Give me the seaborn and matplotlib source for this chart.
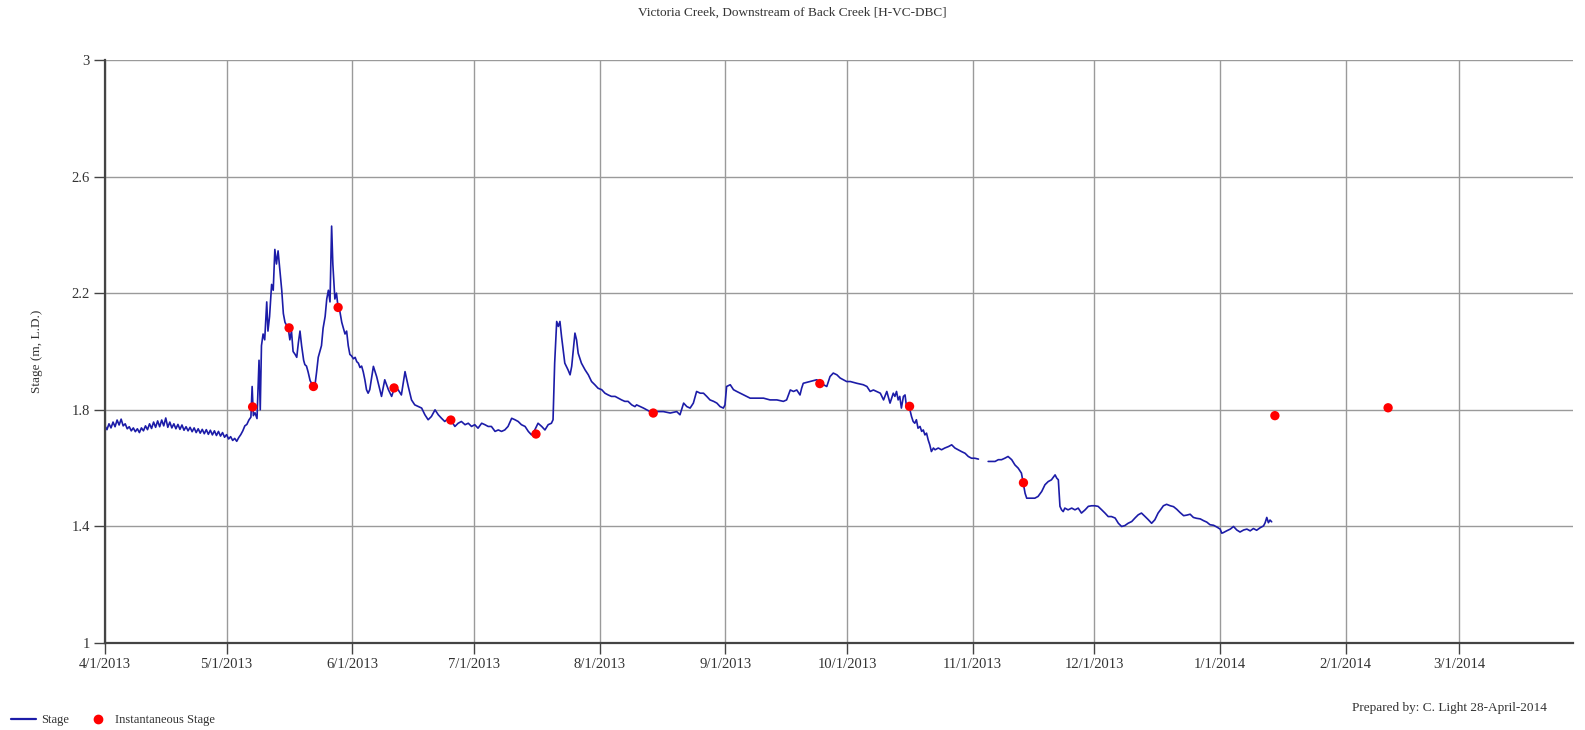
import pandas as pd
import seaborn as sns
import matplotlib
matplotlib.use("Agg")
import matplotlib.pyplot as plt
from matplotlib.lines import Line2D
from matplotlib.ticker import FuncFormatter

# logger record: days after 4/1/2013 and stage (m, L.D.)
start = pd.Timestamp("2013-04-01")

spring_days = [0, 0.5, 1, 1.5, 2, 2.5, 3, 3.5, 4, 4.5, 5, 5.5, 6, 6.5, 7, 7.5, 8, 8.5, 9, 9.5,
               10, 10.5, 11, 11.5, 12, 12.5, 13, 13.5, 14, 14.5, 15, 15.5, 16, 16.5, 17, 17.5,
               18, 18.5, 19, 19.5, 20, 20.5, 21, 21.5, 22, 22.5, 23, 23.5, 24, 24.5, 25, 25.5,
               26, 26.5, 27, 27.5, 28, 28.5, 29, 29.5, 30, 30.5, 31, 31.5, 32, 32.5, 33, 33.5,
               34, 34.5, 35, 35.5,
               36, 36.3, 36.6, 37, 37.5, 38, 38.3, 38.6, 39, 39.4, 39.9, 40.2, 40.6, 41.1, 41.5,
               41.9, 42.3, 42.7, 43.2, 43.6, 44, 44.4, 44.8, 45.2, 45.6, 46, 46.4, 46.9, 47.3,
               47.7, 48.1, 48.5, 49, 49.3, 49.7, 50.1, 50.6, 51, 51.4, 51.8, 52.2, 52.6, 53, 53.4,
               53.8, 54.3, 54.7, 55.1, 55.5, 55.9, 56.2, 56.7, 57.1, 57.5, 57.9, 58.4, 58.8, 59.2,
               59.6, 60, 60.4, 60.8, 61.3, 61.7, 62.1, 62.5, 62.9, 63.3, 63.7]
spring_stage = [1.745, 1.732, 1.752, 1.738, 1.758, 1.742, 1.765, 1.748, 1.768, 1.745, 1.752, 1.735,
                1.742, 1.728, 1.738, 1.725, 1.735, 1.722, 1.738, 1.728, 1.745, 1.732, 1.752, 1.736,
                1.758, 1.740, 1.762, 1.742, 1.765, 1.745, 1.772, 1.740, 1.758, 1.738, 1.752, 1.735,
                1.750, 1.733, 1.748, 1.730, 1.742, 1.728, 1.740, 1.725, 1.738, 1.722, 1.735, 1.720,
                1.733, 1.718, 1.732, 1.716, 1.730, 1.714, 1.728, 1.712, 1.726, 1.710, 1.722, 1.706,
                1.715, 1.700, 1.708, 1.695, 1.702, 1.692, 1.705, 1.715, 1.728, 1.745, 1.750, 1.765,
                1.775, 1.880, 1.780, 1.790, 1.770, 1.970, 1.800, 2.020, 2.060, 2.040, 2.170, 2.070,
                2.120, 2.230, 2.210, 2.350, 2.300, 2.345, 2.270, 2.210, 2.130, 2.100, 2.090, 2.080,
                2.040, 2.070, 2.000, 1.990, 1.980, 2.030, 2.070, 2.020, 1.970, 1.955, 1.950, 1.930,
                1.900, 1.890, 1.880, 1.885, 1.930, 1.980, 2.000, 2.020, 2.080, 2.120, 2.180, 2.210,
                2.170, 2.430, 2.300, 2.180, 2.200, 2.150, 2.140, 2.100, 2.080, 2.060, 2.070, 2.020,
                1.990, 1.985, 1.975, 1.980, 1.965, 1.960, 1.945, 1.950, 1.930]

summer_days = [64.1, 64.5, 64.9, 65.3, 66.2, 67.0, 67.8, 68.2, 69.0, 69.9, 70.7, 71.5, 72.3, 73.1,
               74.0, 74.8, 75.6, 76.4, 77.3, 78.1, 78.9, 79.7, 80.5, 81.4, 82.2, 83.0, 83.8, 84.7,
               85.5, 86.3, 87.1, 87.9, 88.8, 89.6, 90.4, 91.2, 92.0, 92.9, 93.7, 94.5, 95.3, 96.2,
               97.0, 97.8, 98.6, 99.4, 100.3, 101.1, 101.9, 102.7, 103.6, 104.4, 105.2, 106.0,
               106.8, 107.7, 108.5, 109.3, 110.1, 110.5, 110.9, 111.4, 111.8, 112.2, 112.6, 113.4,
               114.2, 114.7, 115.1, 115.9, 116.3, 116.7, 117.5, 118.4, 119.2, 120.0, 120.8, 121.6,
               122.5, 123.3, 124.1, 124.9, 125.8, 126.6, 127.4, 128.2, 129.0, 129.9, 130.7]
summer_stage = [1.903, 1.869, 1.857, 1.869, 1.949, 1.914, 1.869, 1.846, 1.903, 1.869, 1.846, 1.880,
                1.869, 1.851, 1.931, 1.880, 1.834, 1.817, 1.811, 1.806, 1.783, 1.766, 1.777, 1.800,
                1.783, 1.771, 1.760, 1.771, 1.760, 1.743, 1.754, 1.760, 1.749, 1.754, 1.743, 1.749,
                1.737, 1.754, 1.749, 1.743, 1.743, 1.726, 1.731, 1.726, 1.731, 1.743, 1.771, 1.766,
                1.760, 1.749, 1.743, 1.726, 1.714, 1.731, 1.754, 1.743, 1.731, 1.749, 1.754, 1.766,
                1.960, 2.103, 2.086, 2.103, 2.051, 1.960, 1.937, 1.920, 1.949, 2.063, 2.040, 1.994,
                1.960, 1.937, 1.920, 1.897, 1.886, 1.874, 1.869, 1.857, 1.851, 1.846, 1.846, 1.840,
                1.834, 1.829, 1.829, 1.817, 1.811]

autumn_days = [131.1, 132.8, 134.4, 136.1, 137.7, 139.4, 141.0, 141.8, 142.7, 143.5, 144.3, 145.1,
               145.9, 146.8, 147.6, 148.4, 149.2, 150.1, 150.9, 151.7, 152.5, 152.9, 153.3, 154.2,
               155.0, 155.8, 157.5, 159.1, 160.7, 162.4, 164.0, 165.7, 167.3, 168.1, 169.0, 169.8,
               170.6, 171.4, 171.8, 172.2, 173.9, 175.5, 176.4, 177.2, 178.0, 178.8, 179.6, 180.5,
               181.3, 182.1, 182.9, 183.8, 185.4, 187.0, 187.9, 188.7, 189.5, 190.3, 191.2, 192.0,
               192.8, 193.6, 194.4, 194.8, 195.2, 195.6, 196.0, 196.4, 196.9, 197.3, 197.7, 198.1,
               198.5, 198.9, 199.3, 199.7, 200.1, 200.5, 201.0, 201.4, 201.8, 202.2, 202.6, 203.0,
               203.4, 203.8, 204.3, 204.7, 205.5, 206.3, 207.1, 208.0, 208.8, 209.6, 210.4, 211.2,
               212.1, 212.9, 213.7, 214.5, 215.4]
autumn_stage = [1.817, 1.806, 1.794, 1.794, 1.794, 1.789, 1.794, 1.783, 1.823, 1.811, 1.806, 1.823,
                1.863, 1.857, 1.857, 1.846, 1.834, 1.829, 1.823, 1.811, 1.806, 1.817, 1.880, 1.886,
                1.869, 1.863, 1.851, 1.840, 1.840, 1.840, 1.834, 1.834, 1.829, 1.834, 1.868, 1.863,
                1.868, 1.851, 1.874, 1.891, 1.897, 1.903, 1.897, 1.886, 1.880, 1.914, 1.926, 1.920,
                1.909, 1.903, 1.897, 1.897, 1.891, 1.886, 1.880, 1.863, 1.868, 1.863, 1.857, 1.834,
                1.863, 1.823, 1.857, 1.846, 1.863, 1.834, 1.846, 1.806, 1.846, 1.851, 1.806, 1.817,
                1.800, 1.777, 1.760, 1.754, 1.766, 1.737, 1.743, 1.726, 1.731, 1.714, 1.720, 1.697,
                1.680, 1.657, 1.669, 1.663, 1.669, 1.663, 1.669, 1.674, 1.680, 1.669, 1.663, 1.657,
                1.651, 1.640, 1.634, 1.634, 1.631]

winter_days = [217.8, 218.6, 219.5, 220.3, 221.1, 221.9, 222.7, 223.6, 224.4, 225.2, 226.0, 226.9,
               227.3, 227.7, 228.5, 229.3, 230.1, 231.0, 231.8, 232.6, 233.4, 234.3, 234.7, 235.1,
               235.5, 235.9, 236.3, 236.7, 237.5, 238.4, 239.2, 240.0, 240.8, 241.7, 242.5, 243.3,
               244.1, 244.9, 245.8, 246.6, 247.4, 248.2, 249.1, 249.9, 250.7, 251.5, 252.3, 253.2,
               254.0, 254.8, 255.6, 256.5, 257.3, 258.1, 258.9, 259.7, 260.6, 261.0, 261.8, 262.7,
               263.5, 264.3, 265.1, 266.0, 266.8, 267.6, 268.4, 269.2, 270.1, 270.9, 271.7, 272.5,
               273.4, 274.2, 275.0, 275.4, 275.8, 276.6, 277.5, 278.3, 279.1, 279.9, 280.8, 281.6,
               282.4, 283.2, 284.0, 284.9, 285.7, 286.1, 286.5, 286.9, 287.3, 287.7]
winter_stage = [1.623, 1.623, 1.623, 1.629, 1.629, 1.634, 1.640, 1.629, 1.611, 1.600, 1.583, 1.514,
                1.497, 1.497, 1.497, 1.497, 1.503, 1.520, 1.543, 1.554, 1.560, 1.577, 1.566, 1.560,
                1.469, 1.457, 1.451, 1.463, 1.457, 1.463, 1.457, 1.463, 1.446, 1.457, 1.469, 1.471,
                1.471, 1.469, 1.457, 1.446, 1.434, 1.434, 1.429, 1.411, 1.400, 1.403, 1.411, 1.417,
                1.429, 1.440, 1.446, 1.434, 1.423, 1.411, 1.423, 1.446, 1.463, 1.471, 1.476, 1.471,
                1.468, 1.459, 1.448, 1.437, 1.439, 1.442, 1.431, 1.428, 1.426, 1.420, 1.415, 1.406,
                1.404, 1.398, 1.391, 1.377, 1.379, 1.385, 1.391, 1.400, 1.388, 1.381, 1.388, 1.391,
                1.385, 1.393, 1.387, 1.396, 1.402, 1.413, 1.431, 1.413, 1.422, 1.416]

# spot readings
spot_dates = ["2013-05-07 10:00", "2013-05-16 10:00", "2013-05-22 10:00", "2013-05-28 12:00",
              "2013-06-11 07:00", "2013-06-25 07:00", "2013-07-16 07:00", "2013-08-14 05:00",
              "2013-09-24 07:00", "2013-10-16 10:00", "2013-11-13 12:00", "2014-01-14 12:00",
              "2014-02-11 10:00"]
spot_stage = [1.810, 2.081, 1.880, 2.151, 1.875, 1.765, 1.717, 1.789, 1.890, 1.812, 1.550, 1.780, 1.807]

month_ticks = pd.date_range("2013-04-01", "2014-03-01", freq="MS")
y_ticks = [1, 1.4, 1.8, 2.2, 2.6, 3]

parts = []
for seg, (d, v) in enumerate([(spring_days + summer_days + autumn_days,
                               spring_stage + summer_stage + autumn_stage),
                              (winter_days, winter_stage)]):
    parts.append(pd.DataFrame({"date": start + pd.to_timedelta(d, unit="D"),
                               "stage": v, "segment": seg}))
stage_df = pd.concat(parts, ignore_index=True)
spot_df = pd.DataFrame({"date": pd.to_datetime(spot_dates), "stage": spot_stage})

sns.set_theme(style="whitegrid")
plt.rcParams["font.family"] = ["Liberation Serif", "DejaVu Serif"]

line_blue = "#1c1ca8"
fig, ax = plt.subplots(figsize=(15.85, 7.30), dpi=100)
fig.subplots_adjust(left=0.0662, right=0.9924, top=0.918, bottom=0.119)

sns.lineplot(data=stage_df, x="date", y="stage", units="segment", estimator=None,
             color=line_blue, linewidth=1.2, ax=ax, legend=False)
sns.scatterplot(data=spot_df, x="date", y="stage", color="#ff0000", s=45,
                edgecolor="none", ax=ax, zorder=3, legend=False)

ax.set_xlim(start, start + pd.Timedelta(days=362))
ax.set_ylim(1, 3)
ax.set_xticks(month_ticks)
ax.xaxis.set_major_formatter(FuncFormatter(
    lambda x, pos: (lambda d: f"{d.month}/{d.day}/{d.year}")(matplotlib.dates.num2date(x))))
ax.set_yticks(y_ticks)
ax.yaxis.set_major_formatter(FuncFormatter(lambda v, pos: f"{v:g}"))

ax.grid(True, color="#9a9a9a", linewidth=1)
ax.set_axisbelow(True)
for side in ["top", "right"]:
    ax.spines[side].set_visible(False)
for side in ["left", "bottom"]:
    ax.spines[side].set_color("#444444")
    ax.spines[side].set_linewidth(1.6)
ax.tick_params(axis="both", which="major", bottom=True, left=True, length=8, width=1,
               color="#444444", labelsize=10.5, labelcolor="#333333", pad=3)

ax.set_xlabel("")
ax.set_ylabel("Stage (m, L.D.)", fontsize=9.5, color="#333333")
ax.yaxis.set_label_coords(-0.042, 0.5)

fig.text(0.5, 1 - 13 / 730, "Victoria Creek, Downstream of Back Creek [H-VC-DBC]",
         ha="center", va="center", fontsize=9.5, color="#333333")
fig.text(1352 / 1585, 1 - 708 / 730, "Prepared by: C. Light 28-April-2014",
         ha="left", va="center", fontsize=9.5, color="#333333")

handles = [Line2D([], [], color=line_blue, linewidth=1.6),
           Line2D([], [], color="#ff0000", marker="o", linestyle="none", markersize=6)]
fig.legend(handles, ["Stage", "Instantaneous Stage"], loc="center left",
           bbox_to_anchor=(0.0, 1 - 720 / 730), ncol=2, frameon=False, fontsize=9,
           handlelength=2.0, handletextpad=0.4, columnspacing=1.3, labelcolor="#333333")

fig.savefig("out.png", dpi=100)
